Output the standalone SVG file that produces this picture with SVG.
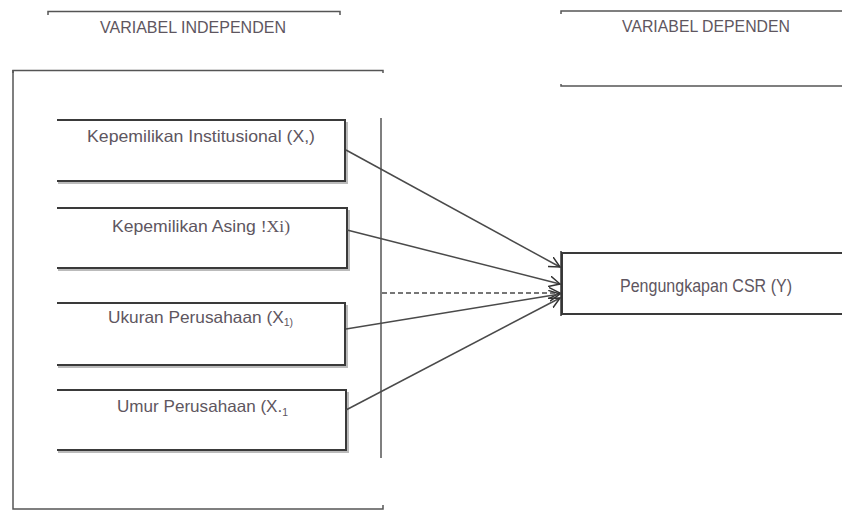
<svg xmlns="http://www.w3.org/2000/svg" width="842" height="511" viewBox="0 0 842 511">
<defs>
<style>
.ln{stroke:#555;stroke-width:1.5;fill:none}
.bx{stroke:#3a3a3a;stroke-width:2;fill:none}
.sh{stroke:#bbb;stroke-width:2;fill:none}
.tx{font-family:"Liberation Sans",Arial,sans-serif;font-size:16.5px;fill:#5e5660;text-anchor:start}
.hd{font-family:"Liberation Sans",Arial,sans-serif;font-size:16.5px;fill:#5e5660;text-anchor:start}
.sf{font-family:"Liberation Serif","Times New Roman",serif}
.cn{stroke:#4a4a4a;stroke-width:1.5;fill:none}
</style>
<marker id="ah" viewBox="0 0 12 12" refX="11" refY="6" markerWidth="12" markerHeight="12" markerUnits="userSpaceOnUse" orient="auto">
<path d="M0,0.5 L11,6 L0,11.5" fill="none" stroke="#333" stroke-width="1.5"/>
</marker>
</defs>
<rect width="842" height="511" fill="#fff"/>
<g id="frame">
<path class="ln" d="M48,15 V11.5 H340 V15"/>
<path class="ln" d="M13,73 V70.5 H383 V73"/>
<path class="ln" d="M13,70 V509 H383 V505"/>
<line class="ln" x1="381" y1="118" x2="381" y2="458"/>
<path class="ln" d="M561,14 V11 H842"/>
<path class="ln" d="M561,84 V86 H842"/>
<text class="hd" x="100" y="33" textLength="186" lengthAdjust="spacingAndGlyphs">VARIABEL INDEPENDEN</text>
<text class="hd" x="622" y="32" textLength="168" lengthAdjust="spacingAndGlyphs">VARIABEL DEPENDEN</text>
</g>
<g id="x1">
<path class="sh" d="M58,183 H347 V122"/>
<path class="bx" d="M57,120 H345 V181 H57"/>
<text class="tx" x="87" y="142" textLength="228" lengthAdjust="spacingAndGlyphs">Kepemilikan Institusional (X,)</text>
</g>
<g id="x2">
<path class="sh" d="M58,270 H349 V210"/>
<path class="bx" d="M57,208 H347 V268 H57"/>
<text class="tx" x="112" y="232" textLength="178" lengthAdjust="spacingAndGlyphs">Kepemilikan Asing <tspan class="sf">!Xi)</tspan></text>
</g>
<g id="x3">
<path class="sh" d="M58,367 H347 V305"/>
<path class="bx" d="M57,303 H345 V365 H57"/>
<text class="tx" x="108" y="323" textLength="185" lengthAdjust="spacingAndGlyphs">Ukuran Perusahaan (X<tspan font-size="10" dy="3">1)</tspan></text>
</g>
<g id="x4">
<path class="sh" d="M58,452 H348 V392"/>
<path class="bx" d="M57,390 H346 V450 H57"/>
<text class="tx" x="117" y="412" textLength="171" lengthAdjust="spacingAndGlyphs">Umur Perusahaan (X.<tspan font-size="10" dy="4">1</tspan></text>
</g>
<g id="y">
<path class="bx" d="M842,253 H562 V314 H842"/>
<line x1="561" y1="251" x2="561" y2="316" stroke="#333" stroke-width="1.5"/>
<text class="tx" x="620" y="292" style="font-size:17.5px" textLength="172" lengthAdjust="spacingAndGlyphs">Pengungkapan CSR (Y)</text>
</g>
<g id="connectors">
<line class="cn" x1="346" y1="150" x2="560" y2="267" marker-end="url(#ah)"/>
<line class="cn" x1="347" y1="230" x2="560" y2="284" marker-end="url(#ah)"/>
<line class="cn" x1="382" y1="293" x2="560" y2="293" stroke-dasharray="5,3" marker-end="url(#ah)"/>
<line class="cn" x1="346" y1="329" x2="560" y2="294" marker-end="url(#ah)"/>
<line class="cn" x1="346" y1="410" x2="560" y2="298" marker-end="url(#ah)"/>
</g>
</svg>
